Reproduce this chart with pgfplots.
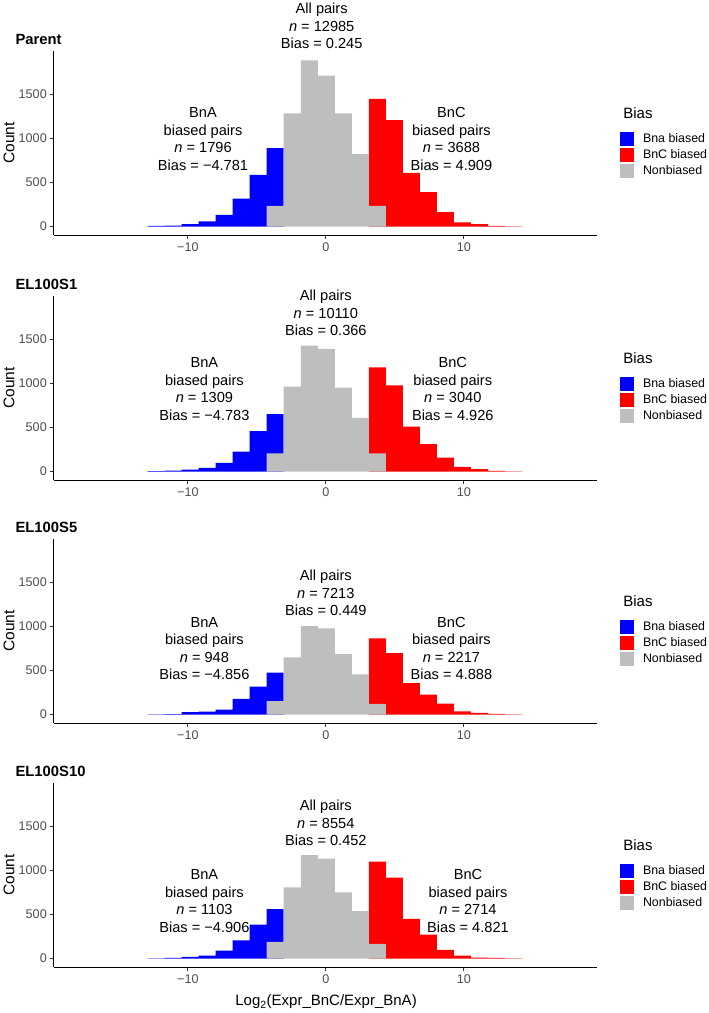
\documentclass[border=0pt]{standalone}
\usepackage{fontspec}
\setmainfont{Liberation Sans}
\usepackage{pgfplots}
\pgfplotsset{compat=1.18}
\definecolor{bnablue}{HTML}{0000FF}
\definecolor{bncred}{HTML}{FF0000}
\definecolor{nbgrey}{HTML}{BEBEBE}
\definecolor{tickgrey}{HTML}{4D4D4D}

\pgfplotsset{
  biaspanel/.style={
    scale only axis, width=543pt, height=184pt,
    anchor=north west,
    xmin=-19.7, xmax=19.65, ymin=-95, ymax=1990,
    axis lines*=left, axis line style={line width=1pt, black, -},
    xtick={-10,0,10}, xticklabels={−10,0,10},
    ytick={0,500,1000,1500}, yticklabels={0,500,1000,1500},
    tick align=outside, major tick length=3.7pt,
    tick style={line width=1pt, color=black!80},
    ticklabel style={font=\fontsize{12.6}{14}\selectfont, text=tickgrey},
    ylabel={Count},
    ylabel style={at={(rel axis cs:-0.083,0.5)}, anchor=center, font=\fontsize{15.5}{17}\selectfont},
    every axis title shift=0pt,
    title style={at={(rel axis cs:-0.0773,1.036)}, anchor=base west, font=\fontsize{14.8}{17}\selectfont\bfseries},
    clip=false,
    legend style={at={(rel axis cs:1.042,0.56)}, anchor=north west, draw=none, fill=none,
      inner sep=0pt, row sep=2pt, font=\fontsize{12.4}{14}\selectfont,
      nodes={inner sep=0pt, anchor=west}},
    legend cell align=left,
    legend image code/.code={\fill[##1] (0pt,-7pt) rectangle (14pt,7pt);},
    /tikz/every odd column/.append style={column sep=9pt},
  },
}
\tikzset{
  lab/.style={font=\fontsize{14.6}{17.5}\selectfont, align=center, text=black},
  legtitle/.style={anchor=west, font=\fontsize{15}{17}\selectfont},
}

\begin{document}
\begin{tikzpicture}
\useasboundingbox (0pt,0pt) rectangle (709pt,-1013pt);

% ---- Parent ----
\begin{axis}[biaspanel, at={(54pt,-51pt)}, title={Parent}]
\addplot[ybar interval, fill=bnablue, draw=none] coordinates {
  (-12.920,8) (-11.686,12) (-10.453,27) (-9.219,60) (-7.986,133)
  (-6.752,318) (-5.518,587) (-4.285,890) (-3.051,0)};
\addplot[ybar interval, fill=bncred, draw=none] coordinates {
  (3.117,1447) (4.350,1208) (5.584,610) (6.818,390) (8.051,163)
  (9.285,49) (10.518,27) (11.752,8) (12.986,4) (14.219,0)};
\addplot[ybar interval, fill=nbgrey, draw=none] coordinates {
  (-4.285,235) (-3.051,1284) (-1.818,1883) (-0.584,1712) (0.650,1284)
  (1.883,822) (3.117,235) (4.350,0)};
\legend{Bna biased, BnC biased, Nonbiased}
\node[legtitle] at (rel axis cs:1.042,0.663) {Bias};
\node[lab] at (axis cs:-0.3,2273) {All pairs\\\textit{n} = 12985\\Bias = 0.245};
\node[lab] at (axis cs:-8.9,991) {BnA\\biased pairs\\\textit{n} = 1796\\Bias = −4.781};
\node[lab] at (axis cs:9.1,991) {BnC\\biased pairs\\\textit{n} = 3688\\Bias = 4.909};
\end{axis}

% ---- EL100S1 ----
\begin{axis}[biaspanel, at={(54pt,-296pt)}, title={EL100S1}]
\addplot[ybar interval, fill=bnablue, draw=none] coordinates {
  (-12.920,6) (-11.686,10) (-10.453,22) (-9.219,42) (-7.986,98)
  (-6.752,227) (-5.518,458) (-4.285,652) (-3.051,0)};
\addplot[ybar interval, fill=bncred, draw=none] coordinates {
  (3.117,1182) (4.350,977) (5.584,511) (6.818,311) (8.051,159)
  (9.285,53) (10.518,27) (11.752,8) (12.986,4) (14.219,0)};
\addplot[ybar interval, fill=nbgrey, draw=none] coordinates {
  (-4.285,208) (-3.051,962) (-1.818,1428) (-0.584,1390) (0.650,951)
  (1.883,610) (3.117,208) (4.350,0)};
\legend{Bna biased, BnC biased, Nonbiased}
\node[legtitle] at (rel axis cs:1.042,0.663) {Bias};
\node[lab] at (axis cs:0,1797) {All pairs\\\textit{n} = 10110\\Bias = 0.366};
\node[lab] at (axis cs:-8.8,936) {BnA\\biased pairs\\\textit{n} = 1309\\Bias = −4.783};
\node[lab] at (axis cs:9.2,936) {BnC\\biased pairs\\\textit{n} = 3040\\Bias = 4.926};
\end{axis}

% ---- EL100S5 ----
\begin{axis}[biaspanel, at={(54pt,-539pt)}, title={EL100S5}]
\addplot[ybar interval, fill=bnablue, draw=none] coordinates {
  (-12.920,3) (-11.686,5) (-10.453,27) (-9.219,34) (-7.986,57)
  (-6.752,178) (-5.518,318) (-4.285,477) (-3.051,0)};
\addplot[ybar interval, fill=bncred, draw=none] coordinates {
  (3.117,864) (4.350,697) (5.584,356) (6.818,227) (8.051,125)
  (9.285,38) (10.518,19) (11.752,8) (12.986,4) (14.219,0)};
\addplot[ybar interval, fill=nbgrey, draw=none] coordinates {
  (-4.285,152) (-3.051,648) (-1.818,1004) (-0.584,977) (0.650,686)
  (1.883,455) (3.117,121) (4.350,0)};
\legend{Bna biased, BnC biased, Nonbiased}
\node[legtitle] at (rel axis cs:1.042,0.663) {Bias};
\node[lab] at (axis cs:0,1378) {All pairs\\\textit{n} = 7213\\Bias = 0.449};
\node[lab] at (axis cs:-8.8,749) {BnA\\biased pairs\\\textit{n} = 948\\Bias = −4.856};
\node[lab] at (axis cs:9.1,749) {BnC\\biased pairs\\\textit{n} = 2217\\Bias = 4.888};
\end{axis}

% ---- EL100S10 ----
\begin{axis}[biaspanel, at={(54pt,-783pt)}, title={EL100S10},
  xlabel={Log\textsubscript{2}(Expr\_BnC/Expr\_BnA)},
  xlabel style={at={(rel axis cs:0.501,-0.19)}, anchor=center, font=\fontsize{15}{17}\selectfont}]
\addplot[ybar interval, fill=bnablue, draw=none] coordinates {
  (-12.920,4) (-11.686,8) (-10.453,19) (-9.219,34) (-7.986,91)
  (-6.752,208) (-5.518,386) (-4.285,561) (-3.051,0)};
\addplot[ybar interval, fill=bncred, draw=none] coordinates {
  (3.117,1098) (4.350,917) (5.584,451) (6.818,273) (8.051,98)
  (9.285,34) (10.518,11) (11.752,8) (12.986,4) (14.219,0)};
\addplot[ybar interval, fill=nbgrey, draw=none] coordinates {
  (-4.285,189) (-3.051,807) (-1.818,1174) (-0.584,1133) (0.650,750)
  (1.883,538) (3.117,167) (4.350,0)};
\legend{Bna biased, BnC biased, Nonbiased}
\node[legtitle] at (rel axis cs:1.042,0.663) {Bias};
\node[lab] at (axis cs:0,1537) {All pairs\\\textit{n} = 8554\\Bias = 0.452};
\node[lab] at (axis cs:-8.8,654) {BnA\\biased pairs\\\textit{n} = 1103\\Bias = −4.906};
\node[lab] at (axis cs:10.3,654) {BnC\\biased pairs\\\textit{n} = 2714\\Bias = 4.821};
\end{axis}
\end{tikzpicture}
\end{document}
